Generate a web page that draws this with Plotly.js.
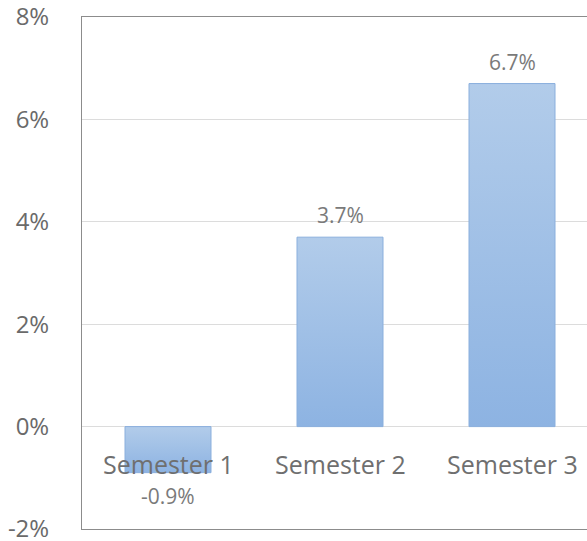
<!DOCTYPE html>
<html>
<head>
<meta charset="utf-8">
<script src="https://cdn.plot.ly/plotly-3.0.1.min.js"></script>
<style>
html, body { margin: 0; padding: 0; overflow: hidden; background: #fff; }
#chart { width: 610px; height: 541px; }
</style>
</head>
<body>
<div id="chart"></div>
<script>
const categories = ["Semester 1", "Semester 2", "Semester 3"];
const values = [-0.9, 3.7, 6.7];
const valueLabels = ["-0.9%", "3.7%", "6.7%"];
const yTickValues = [-2, 0, 2, 4, 6, 8];
const yTickLabels = ["-2%", "0%", "2%", "4%", "6%", "8%"];

const FONT = "'Open Sans', 'Liberation Sans', sans-serif";

const trace = {
  type: "bar",
  x: categories,
  y: values,
  width: 0.5,
  marker: { color: "#A0BFE6", line: { color: "#8AAFDD", width: 1 } },
  hoverinfo: "none"
};

const annotations = [];
categories.forEach((c) => {
  annotations.push({
    x: c, y: 0, xref: "x", yref: "y",
    text: c, showarrow: false, yanchor: "middle", yshift: -37,
    font: { family: FONT, size: 25, color: "#6f6f6f" }
  });
});
values.forEach((v, i) => {
  annotations.push({
    x: categories[i], y: v, xref: "x", yref: "y",
    text: valueLabels[i], showarrow: false, yanchor: "middle",
    yshift: v >= 0 ? 22 : -23,
    font: { family: FONT, size: 21, color: "#7a7a7a" }
  });
});

const layout = {
  width: 610, height: 541,
  margin: { l: 82, r: 12, t: 17, b: 12 },
  paper_bgcolor: "#fff", plot_bgcolor: "#fff",
  showlegend: false,
  xaxis: {
    type: "category", range: [-0.5, 2.5],
    showticklabels: false, showgrid: false, zeroline: false,
    showline: true, mirror: true, linecolor: "#8c8c8c", linewidth: 1,
    fixedrange: true
  },
  yaxis: {
    range: [-2, 8], tickvals: yTickValues, ticktext: yTickLabels,
    ticks: "", ticklabelstandoff: 27, ticklabeloverflow: "allow",
    tickfont: { family: FONT, size: 24, color: "#6a6a6a" },
    showgrid: true, gridcolor: "#dcdcdc", gridwidth: 1,
    zeroline: true, zerolinecolor: "#dcdcdc", zerolinewidth: 1,
    showline: true, mirror: true, linecolor: "#8c8c8c", linewidth: 1,
    fixedrange: true
  },
  annotations: annotations
};

Plotly.newPlot("chart", [trace], layout, { staticPlot: true, displayModeBar: false }).then(() => {
  const svg = document.querySelector("#chart .main-svg");
  const ns = "http://www.w3.org/2000/svg";
  let defs = svg.querySelector("defs");
  if (!defs) { defs = document.createElementNS(ns, "defs"); svg.insertBefore(defs, svg.firstChild); }
  const grad = document.createElementNS(ns, "linearGradient");
  grad.setAttribute("id", "barGrad");
  grad.setAttribute("x1", "0"); grad.setAttribute("y1", "0");
  grad.setAttribute("x2", "0"); grad.setAttribute("y2", "1");
  [["0", "#B2CCEA"], ["1", "#8DB3E2"]].forEach(([o, c]) => {
    const s = document.createElementNS(ns, "stop");
    s.setAttribute("offset", o); s.setAttribute("stop-color", c);
    grad.appendChild(s);
  });
  defs.appendChild(grad);
  document.querySelectorAll("#chart .bars .point path").forEach((p) => {
    p.style.fill = "url(#barGrad)";
  });
});
</script>
</body>
</html>
